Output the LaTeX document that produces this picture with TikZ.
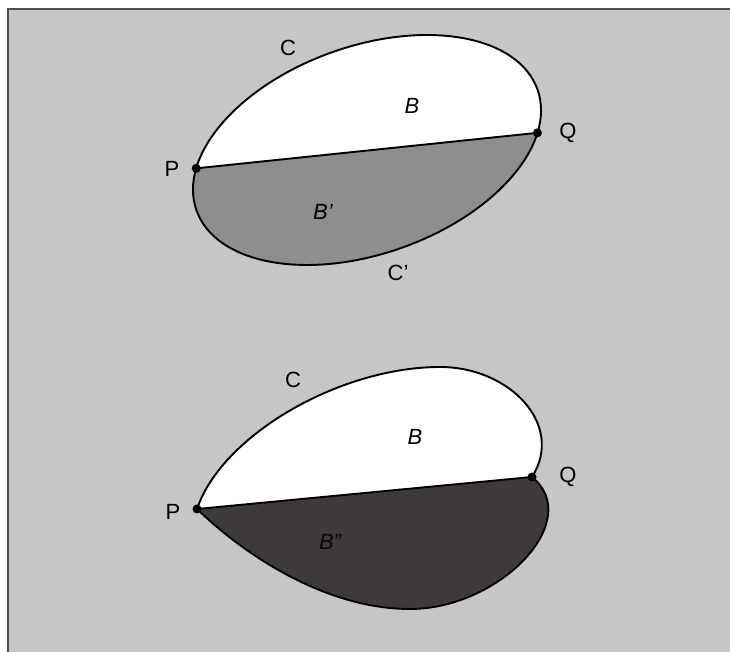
\documentclass[tikz,border=0pt]{standalone}
\usepackage{fontspec}
\setmainfont{Liberation Sans}
\definecolor{bgpaper}{HTML}{C6C6C4}
\definecolor{midgray}{HTML}{8E8E8C}
\definecolor{darkfill}{HTML}{3E3A39}
\definecolor{framecol}{HTML}{505050}
\tikzset{
  outline/.style={line width=1.9pt, black},
  ptdot/.style={circle, fill=black, inner sep=0pt, minimum size=9pt},
  lbl/.style={font=\fontsize{22}{26}\selectfont, inner sep=0pt},
}
\begin{document}
\begin{tikzpicture}[x=1pt,y=1pt]
\useasboundingbox (0,0) rectangle (730,652);
\fill[white] (0,0) rectangle (730,652);
\fill[bgpaper] (8,0) rectangle (730,643);
\draw[framecol, line width=2.2pt] (8,0) -- (8,643) -- (730,643);

% ---------- upper figure: an ellipse cut by chord PQ ----------
\begin{scope}[shift={(367,502)}, rotate=19.5]
  \coordinate (P1) at ({180.9*cos(157.5)},{103.8*sin(157.5)});
  \coordinate (Q1) at ({180.9*cos(336.9)},{103.8*sin(336.9)});
  \fill[white] (Q1) arc[start angle=336.9, end angle=517.5, x radius=180.9, y radius=103.8] -- cycle;
  \fill[midgray] (P1) arc[start angle=157.5, end angle=336.9, x radius=180.9, y radius=103.8] -- cycle;
  \draw[outline] (0,0) ellipse[x radius=180.9, y radius=103.8];
\end{scope}
\draw[outline] (P1) -- (Q1);
\node[ptdot] (p1) at (P1) {};
\node[ptdot] (q1) at (Q1) {};
\node[lbl] (lp1) at (172,483) {P};
\node[lbl] (lq1) at (568,519) {Q};
\node[lbl] (lc1) at (288,604) {C};
\node[lbl] (lb1) at (412,546) {\itshape B};
\node[lbl] (lbp1) at (323,440) {\itshape B'};
\node[lbl] (lcp1) at (398,379) {C'};

% ---------- lower figure ----------
\coordinate (P2) at (197,143);
\coordinate (Q2) at (532,175);
\fill[white] (P2) .. controls (222,217) and (340,285) .. (440,285)
  .. controls (510,285) and (565,227) .. (Q2) -- cycle;
\fill[darkfill] (P2) .. controls (250,92) and (330,43) .. (410,43)
  .. controls (500,43) and (585,132) .. (Q2) -- cycle;
\draw[outline] (P2) .. controls (222,217) and (340,285) .. (440,285)
  .. controls (510,285) and (565,227) .. (Q2);
\draw[outline] (P2) .. controls (250,92) and (330,43) .. (410,43)
  .. controls (500,43) and (585,132) .. (Q2);
\draw[outline] (P2) -- (Q2);
\node[ptdot] (p2) at (P2) {};
\node[ptdot] (q2) at (Q2) {};
\node[lbl] (lp2) at (173,140) {P};
\node[lbl] (lq2) at (568,175) {Q};
\node[lbl] (lc2) at (293,272) {C};
\node[lbl] (lb2) at (415,215) {\itshape B};
\node[lbl, text=black!85!darkfill] (lbpp2) at (330,110) {\itshape B''};
\end{tikzpicture}
\end{document}
